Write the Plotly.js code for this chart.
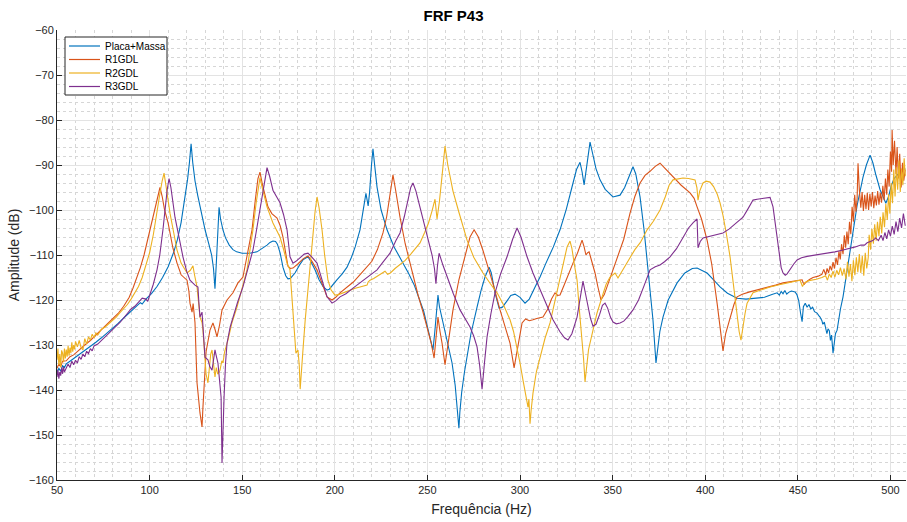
<!DOCTYPE html>
<html>
<head>
<meta charset="utf-8">
<script src="https://cdn.plot.ly/plotly-3.0.1.min.js"></script>
<style>html,body{margin:0;padding:0;background:#fff;}#chart{width:907px;height:522px;}</style>
</head>
<body>
<div id="chart"></div>
<script>
// Series names
const seriesNames = ["Placa+Massa", "R1GDL", "R2GDL", "R3GDL"];

// [frequency Hz, amplitude dB]
const placaMassa = [[50,-136.0],[51,-135.2],[52,-135.8],[53,-134.6],[54,-135.0],[55,-134.2],[57,-133.6],[59,-133.0],[61,-132.6],[63,-131.8],[65,-131.2],[68,-130.4],[71,-129.4],[74,-128.4],[77,-127.4],[80,-126.4],[83,-125.2],[86,-124.0],[89,-122.8],[92,-121.6],[95,-120.6],[96,-120.9],[98,-119.8],[101,-118.6],[104,-117.0],[107,-115.0],[110,-112.6],[113,-109.4],[115,-106.6],[117,-102.8],[119,-97.6],[120.5,-93.2],[121.5,-89.5],[122.4,-85.3],[123.3,-89.5],[124.5,-93.5],[126,-96.8],[128,-100.8],[130,-104.5],[132,-107.6],[133.5,-110.0],[134.5,-113.0],[135.3,-117.5],[136,-112],[136.8,-104],[137.5,-99.4],[138.3,-102.0],[139.6,-104.4],[141,-106.2],[143,-107.8],[145,-108.8],[147,-109.3],[150,-109.6],[154,-109.6],[158,-109.3],[161,-108.5],[163.4,-107.8],[165,-107.2],[166.6,-106.9],[168,-107.0],[169,-107.6],[170.5,-109.6],[172,-112.7],[173.5,-114.6],[174.7,-115.3],[176,-115.2],[178.5,-114.0],[181,-112.2],[183,-111.0],[185.5,-110.4],[187,-111.4],[189.3,-113.3],[191.5,-115.5],[193.6,-117.0],[195.8,-117.8],[197,-117.6],[198.5,-116.8],[201,-115.6],[204,-114.2],[206.6,-112.7],[209,-110.5],[211,-108.2],[213.6,-104.4],[215.5,-99.5],[216.8,-96.3],[218,-99.1],[218.8,-96],[219.8,-90],[220.6,-86.4],[221.5,-90.0],[222.8,-94.9],[225,-100.0],[228.2,-104.4],[232,-108.2],[236.8,-111.8],[240,-114.2],[243,-116.8],[246,-120],[248,-122.5],[250,-126.0],[252,-129.5],[253,-131.1],[254,-127],[255,-121],[255.7,-118.9],[256.5,-121.5],[258.4,-125.1],[261,-129.5],[263.3,-134.0],[265,-139.0],[266,-143.5],[266.5,-146.7],[267,-148.5],[267.5,-145],[268.5,-140.5],[270,-136.0],[271.4,-132.7],[273.5,-127.5],[276.8,-121.6],[279,-117.8],[281.1,-114.9],[283.3,-112.7],[284.5,-114.0],[285.5,-116.3],[286.5,-118.4],[288.7,-121.8],[290.5,-121.6],[293,-120.2],[295,-119.0],[297.3,-118.7],[300,-119.4],[302.7,-120.7],[305,-119.8],[308,-117.2],[310.8,-114.9],[314,-111.8],[318,-108.2],[321.6,-104.4],[325,-99.8],[328,-95.0],[330.5,-91.0],[332.4,-89.4],[333.5,-91.5],[334.6,-94.4],[335.8,-90.8],[337.8,-84.9],[339.5,-88.0],[341,-90.8],[343.2,-93.3],[346,-95.4],[350.2,-97.1],[354,-96.7],[356.5,-95.0],[359,-92.3],[361,-90.4],[362.5,-92.0],[364.8,-97.1],[367,-104.5],[368.6,-111.8],[370.2,-117.5],[371.8,-124.5],[373.4,-134.0],[374.5,-130],[375.5,-127],[377.2,-123.8],[380,-120.0],[384.8,-116.2],[389,-114.0],[393,-113.0],[395.6,-112.9],[398,-113.4],[401,-114.0],[404,-115.3],[408,-117.1],[412,-118.5],[417.2,-119.6],[422,-119.8],[428,-119.6],[432,-119.4],[436,-118.8],[438.8,-118.4],[440,-118.9],[441,-118.1],[442,-118.6],[443,-117.9],[444,-118.7],[445,-118.3],[446.5,-118.0],[448.5,-118.2],[449.5,-118.8],[450.5,-120.2],[451.5,-123.0],[452.3,-124.8],[453,-121.5],[454,-120.7],[455,-121.6],[456,-121.0],[457,-122.0],[458,-121.6],[459,-122.6],[460.4,-122.9],[461.2,-123.4],[462,-123.8],[463,-124.6],[463.5,-125.4],[464.3,-124.9],[465,-126.0],[465.7,-127.5],[466.3,-126.4],[467,-126.8],[467.6,-129.0],[468.2,-127.8],[469,-131.8],[469.7,-129.0],[470.3,-127.5],[471.2,-126.7],[472,-124.5],[473,-122.0],[474.4,-119.3],[476,-115.0],[478,-109.5],[479.8,-104.4],[482,-99.0],[485.2,-92.7],[487,-90.0],[489,-87.8],[490.5,-89.5],[492,-92.0],[494.4,-95.5],[496,-97.0],[497.5,-98.5],[499,-97.0],[500.5,-94.5],[502,-93.0],[504,-92.0],[506,-91.2],[508,-90.8]];

const r1gdl = [[50,-135.2],[51,-134.2],[52,-134.8],[53,-133.6],[55,-133.5],[57,-132.6],[59,-132.2],[61,-131.4],[63,-130.8],[65,-130.0],[68,-129.0],[71,-127.8],[74,-126.8],[77,-125.6],[80,-124.4],[83,-123.0],[86,-121.4],[89,-119.4],[91,-117.4],[93,-115.3],[95,-112.8],[97,-110.0],[99,-106.5],[101,-103.0],[102.5,-100.0],[104,-97.2],[105.6,-95.0],[106.8,-97.0],[108,-99.8],[110,-102.9],[112.6,-108.5],[114.8,-111.8],[117,-114.4],[120.2,-115.6],[121.2,-118.0],[121.8,-120.7],[122.9,-122.7],[123.5,-120.8],[124.5,-125.0],[125.6,-138.4],[126.5,-143.0],[127.2,-145.1],[127.7,-146.5],[128.3,-148.2],[128.8,-143.8],[129.5,-138.0],[130.5,-131.5],[132.6,-126.7],[134.2,-125.1],[135.3,-126.5],[136.4,-128.2],[137.8,-125.5],[139.1,-122.2],[141.8,-120.0],[145,-118.4],[147.7,-116.2],[150.4,-114.9],[152,-111.5],[153.5,-108.0],[155.3,-104.4],[157,-98.0],[158.5,-93.0],[159.6,-91.6],[161,-94.5],[163.9,-99.3],[166,-100.8],[168.8,-101.8],[170.5,-103.5],[172,-106.0],[173.5,-109.8],[174.7,-112.5],[176,-113.0],[177.4,-112.9],[180,-112.0],[183,-110.8],[185.5,-110.2],[187.5,-111.3],[190.4,-113.3],[193,-116.2],[195.8,-119.3],[198.5,-120.0],[200.5,-119.4],[202.8,-118.4],[206,-117.4],[210,-116.0],[214,-114.2],[217.4,-112.7],[220,-111.4],[223,-108.8],[226,-105.1],[228,-101.5],[229.8,-96.5],[231.4,-92.2],[232.8,-95.5],[235.2,-101.6],[238,-107.5],[240,-110.8],[242.2,-114.9],[245,-119.0],[247.5,-122.5],[249.8,-126.0],[252,-129.5],[253.6,-132.9],[254.5,-128.5],[255.7,-123.8],[256.8,-127.0],[257.9,-129.6],[259.5,-134.4],[261,-130.0],[263.8,-122.2],[267,-115.5],[270.3,-110.4],[273,-106.0],[275.2,-104.4],[277.5,-106.0],[280,-109.0],[282.2,-111.8],[285.5,-116.5],[289.2,-122.2],[292,-126.0],[294.6,-129.6],[296.8,-135.1],[298.5,-131.0],[301.1,-125.1],[303,-124.2],[305,-124.6],[307,-124.4],[309,-124.1],[312.4,-123.8],[315,-122.0],[317,-119.8],[318.9,-118.4],[320.3,-119.0],[321.6,-118.9],[324,-116.5],[326.5,-113.8],[328.6,-111.8],[331,-109.6],[332.4,-108.2],[333.5,-106.7],[334.6,-108.2],[335.6,-110.0],[336.5,-109.5],[337.3,-109.3],[338.8,-111.5],[340.5,-114.0],[342,-117.0],[343.7,-120.0],[345.5,-118.8],[347.5,-116.5],[350.2,-113.3],[353,-110.2],[356,-106.5],[359.4,-100.7],[362,-97.0],[364.8,-94.0],[367.5,-92.3],[370.2,-91.4],[373,-90.3],[375.6,-89.6],[378,-90.6],[382.6,-92.7],[387,-94.5],[391.8,-96.2],[394,-97.4],[395.6,-99.3],[398,-102.0],[401,-106.7],[403.5,-112.0],[406.4,-120.7],[408.3,-126.5],[409.6,-131.3],[411,-127.5],[413.4,-123.8],[415.5,-121.0],[417.2,-119.3],[420,-118.7],[424,-118.2],[428,-117.8],[433,-117.2],[438,-116.7],[442,-116.2],[446,-115.9],[450,-115.7],[452.3,-115.5],[453.3,-116.6],[454.5,-116.0],[456.5,-115.4],[458.2,-115.0],[461,-114.7],[463,-114.3],[464,-113.2],[465,-114.4],[465.8,-113.0],[466.6,-114.0],[467.4,-112.4],[468.2,-113.4],[469,-111.6],[469.8,-113.0],[470.6,-110.6],[471.4,-112.2],[472.2,-109.2],[472.9,-111.0],[473.6,-107.6],[474.4,-109.8],[475.1,-105.6],[475.8,-108.4],[476.5,-104.8],[477.2,-107.6],[477.9,-102.6],[478.6,-105.4],[479.3,-99.3],[480,-102.6],[480.7,-96.6],[481.4,-100.4],[482,-97.5],[482.5,-89.6],[483.2,-95.5],[484,-99.5],[484.7,-96.0],[485.4,-100.2],[486.1,-96.6],[486.8,-99.8],[487.5,-96.2],[488.2,-100.0],[488.9,-96.4],[489.6,-99.2],[490.3,-96.0],[491,-99.6],[491.7,-96.8],[492.4,-99.0],[493.1,-95.8],[493.8,-98.8],[494.5,-96.2],[495.2,-98.4],[495.9,-94.6],[496.6,-97.8],[497.3,-93.0],[498,-96.6],[498.6,-91.0],[499.3,-94.8],[500,-87.0],[500.6,-91.5],[500.9,-82.2],[501.5,-90.0],[502.2,-84.6],[503,-92.0],[503.6,-86.0],[504.3,-93.0],[505,-87.5],[505.8,-95.0],[506.5,-89.5],[507.2,-93.5],[508,-91.0]];

const r2gdl = [[50,-133.3],[50.5,-130.8],[51,-134.5],[51.5,-132.0],[52,-135.0],[52.5,-131.2],[53,-131.8],[53.5,-133.8],[54,-130.8],[54.5,-133.0],[55,-131.0],[55.5,-132.6],[56,-130.2],[56.5,-132.4],[57,-130.6],[57.5,-131.8],[58,-129.4],[58.5,-131.5],[59,-130.0],[59.5,-131.0],[60,-129.2],[61,-130.4],[62,-129.0],[63,-130.6],[64,-131.1],[65,-128.6],[66,-129.8],[67,-128.2],[68,-128.9],[69,-127.6],[70,-128.4],[71,-127.3],[72,-127.8],[74,-126.5],[76,-126.0],[78,-125.3],[80,-124.5],[82,-123.8],[84,-122.8],[86,-122.0],[88,-121.0],[90,-119.8],[92,-118.5],[94,-117.0],[96,-115.0],[98,-112.5],[100,-109.5],[102,-105.5],[104,-100.0],[105.5,-96.5],[106.8,-93.5],[107.8,-91.8],[108.8,-94.5],[110,-98.5],[111,-100.7],[113,-105.0],[114.8,-108.9],[117,-111.8],[120.2,-114.0],[122,-113.4],[123.4,-112.4],[124.3,-114.5],[125.6,-117.1],[127.2,-123.8],[128.3,-125.0],[128.8,-126.7],[129.5,-131.0],[129.9,-134.0],[130.5,-136.5],[131.5,-138.4],[132.2,-135.0],[133,-132.0],[133.7,-131.1],[134.5,-134.5],[135.3,-137.1],[136,-135.0],[136.8,-136.5],[138,-135.6],[139,-133.5],[139.6,-134.0],[140.5,-131.5],[142.3,-128.9],[144.5,-125.0],[147.2,-121.6],[150,-117.5],[152.6,-113.3],[154.5,-108.0],[155.8,-104.4],[157.5,-98.5],[159,-94.0],[159.6,-92.8],[160.5,-94.5],[163.4,-99.3],[166.6,-102.9],[170.4,-106.0],[172.5,-109.0],[174.2,-111.8],[175.8,-113.3],[176.6,-118.0],[177.4,-123.8],[178.3,-128.5],[179,-131.8],[180.1,-131.1],[180.8,-134.5],[181.3,-139.8],[181.8,-137.5],[182.4,-133.0],[182.8,-131.1],[184,-124.5],[185.2,-118.5],[186.6,-113.3],[188,-106.5],[189.3,-100.5],[190.4,-97.1],[191.5,-99.5],[193.1,-104.4],[194.5,-110.0],[196.3,-115.6],[198,-117.8],[200.1,-118.9],[202,-118.8],[204.4,-118.4],[208,-117.8],[211,-117.4],[213.6,-117.1],[216,-116.8],[217.4,-116.7],[218,-116.0],[219,-115.6],[221,-115.2],[222.5,-114.8],[224.4,-114.4],[225.8,-113.9],[227.1,-113.6],[228.5,-114.3],[230,-114.0],[232.5,-113.0],[235.2,-112.2],[238,-111.2],[241,-109.8],[244,-108.3],[246,-107.3],[248.5,-105.0],[250.5,-103.0],[252.5,-100.2],[254.1,-97.6],[255.2,-102.0],[256.5,-98.0],[258,-92.0],[259.5,-85.8],[261,-90.0],[263.8,-95.8],[267,-100.5],[271.4,-106.7],[275,-110.5],[280,-114.0],[284,-116.4],[287.6,-118.4],[291,-121.0],[294.6,-124.4],[296.5,-127.0],[298.4,-130.4],[300,-134.0],[301.6,-137.8],[303,-140.5],[304.3,-143.8],[304.8,-142.0],[305.4,-147.5],[306,-144.5],[307,-140.7],[308.8,-136.0],[310.8,-132.7],[313.5,-128.5],[316.2,-125.1],[319,-120.0],[321.6,-115.6],[323.5,-111.5],[325.4,-108.2],[327,-106.9],[328,-108.5],[329.5,-112.5],[330.8,-115.6],[332,-122.0],[333.5,-128.2],[334.3,-133.0],[335.1,-138.2],[336,-134.5],[337,-131.0],[339.4,-126.7],[341.5,-123.0],[344.3,-119.3],[346.5,-116.5],[348.6,-114.9],[351.3,-114.0],[352.9,-115.1],[354.5,-114.0],[357,-112.2],[359.4,-110.4],[362,-108.8],[365,-107.2],[368.6,-104.4],[372,-102.5],[375.6,-100.0],[378.5,-97.0],[380.5,-94.5],[382.6,-93.3],[385,-93.1],[388,-92.9],[391,-93.0],[394.5,-93.3],[395.5,-95.0],[396.1,-97.8],[397,-95.8],[398.8,-94.0],[400.5,-93.6],[402.6,-93.8],[404.5,-94.8],[406.5,-96.5],[408,-98.4],[409.5,-101.0],[411.5,-105.5],[413.4,-110.4],[415.5,-117.5],[417.2,-123.8],[418.3,-127.0],[419.3,-128.9],[420.3,-126.0],[421.5,-123.0],[422.6,-120.7],[424.2,-119.4],[425.8,-118.4],[430,-117.8],[435,-117.1],[440,-116.6],[445,-116.2],[451.2,-115.6],[452.5,-117.0],[453.5,-116.2],[456,-115.7],[460,-115.4],[463,-115.0],[465,-114.6],[466,-115.6],[467,-114.2],[468,-115.0],[469,-113.6],[470,-114.9],[471,-113.4],[472,-114.4],[473,-112.8],[474,-114.6],[475,-113.0],[476,-115.4],[476.8,-111.5],[477.6,-114.8],[478.4,-112.0],[479.2,-115.8],[480,-111.2],[480.8,-114.5],[481.6,-110.5],[482.4,-113.8],[483.2,-109.8],[484,-114.0],[484.8,-110.2],[485.6,-114.6],[486.4,-109.5],[487.2,-113.0],[488,-110.6],[488.5,-105.5],[489.3,-108.8],[490,-104.2],[490.8,-107.5],[491.5,-103.2],[492.3,-106.8],[493,-102.6],[493.8,-105.8],[494.5,-101.5],[495.3,-105.2],[496,-100.5],[496.8,-103.8],[497.5,-98.6],[498.3,-102.2],[499,-96.5],[499.7,-100.8],[500.4,-94.0],[501.1,-98.5],[501.8,-91.0],[502.5,-97.0],[503.2,-90.5],[503.9,-95.5],[504.6,-89.0],[505.3,-96.0],[506,-90.8],[506.7,-94.5],[507.4,-88.5],[508,-92.5]];

const r3gdl = [[50,-137.1],[50.5,-135.5],[51,-137.5],[51.5,-136.0],[52,-136.8],[52.5,-135.0],[53,-136.4],[53.5,-134.8],[54,-136.0],[55,-135.2],[56,-134.2],[57,-135.0],[58,-133.6],[59,-134.4],[60,-133.4],[61,-134.0],[62,-132.6],[63,-133.2],[64,-132.0],[65,-132.6],[66,-131.4],[67,-131.9],[68,-130.8],[69,-131.3],[70,-130.2],[72,-129.8],[74,-129.0],[76,-128.2],[78,-127.6],[80,-126.8],[82,-126.0],[84,-125.0],[86,-124.0],[88,-123.0],[90,-122.0],[92,-121.4],[94,-120.4],[96,-119.6],[98,-119.8],[99,-120.3],[100,-119.0],[102,-116.5],[104,-113.3],[105.5,-110.0],[107.2,-104.4],[108.5,-99.0],[109.5,-95.5],[110.5,-93.0],[111.5,-95.0],[113.7,-101.6],[116,-106.8],[118,-110.4],[120,-113.6],[121.8,-115.6],[124.5,-116.7],[126.1,-117.1],[126.6,-120.5],[127.2,-123.8],[128.3,-122.7],[129,-127.5],[129.9,-132.7],[131.5,-133.3],[132.5,-134.8],[133.7,-135.6],[134.5,-133.0],[135.3,-131.1],[136.2,-132.8],[136.9,-134.0],[137.8,-138.0],[138.6,-141.6],[139.1,-156.2],[139.6,-147.0],[140.2,-141.6],[141,-134.0],[141.8,-129.6],[143.5,-126.0],[145,-123.8],[147.5,-120.5],[150.4,-117.1],[153,-113.2],[155.8,-108.9],[157.5,-105.0],[159.6,-100.2],[161.5,-95.5],[163.4,-90.6],[164.8,-92.5],[166.6,-95.6],[168.5,-97.0],[170.4,-98.4],[172.3,-101.0],[174.2,-104.4],[175.8,-110.4],[177.4,-111.8],[179,-111.4],[181.2,-110.7],[183.5,-109.8],[185.5,-109.6],[187.5,-110.4],[190.4,-111.8],[193,-115.5],[195.8,-119.3],[198.5,-120.7],[200.5,-120.2],[202.8,-119.3],[206,-118.6],[210,-117.3],[213.6,-116.2],[217.9,-114.9],[222.8,-113.3],[226,-111.6],[229.8,-109.6],[233,-106.8],[235.2,-105.1],[237.5,-101.5],[239.5,-97.6],[241,-95.0],[242.2,-94.0],[243.8,-95.8],[245.5,-98.6],[247.6,-102.2],[250,-106.2],[252.5,-110.0],[253.8,-113.0],[254.6,-116.4],[255.4,-112.5],[256.3,-109.6],[258.5,-112.4],[260.6,-114.9],[264,-118.6],[267.6,-122.2],[270.3,-124.2],[273,-126.0],[275,-128.0],[276.8,-130.4],[278.2,-134.5],[279.5,-139.8],[280.8,-134.0],[282.2,-128.2],[284.3,-123.0],[286.5,-118.4],[289.5,-114.2],[293,-110.4],[296,-106.5],[298.4,-104.0],[300.5,-106.0],[303.8,-110.4],[307,-114.0],[310.8,-117.8],[314,-121.0],[317.8,-124.4],[321.5,-127.0],[324,-128.4],[325.9,-128.9],[328,-127.5],[330.8,-123.8],[332.5,-119.5],[334,-115.8],[335.3,-118.5],[336.7,-121.6],[338,-124.0],[339.4,-125.8],[341,-125.4],[343,-123.2],[344.5,-121.2],[345.9,-120.7],[347.3,-121.8],[348.8,-123.8],[350.2,-124.9],[352,-125.3],[354,-125.1],[356,-124.7],[358,-123.8],[361,-122.2],[364,-120.0],[367,-116.8],[370.2,-113.3],[373,-112.6],[375.6,-112.2],[378,-111.5],[381,-110.4],[384.5,-108.6],[388,-106.0],[391,-104.0],[393.5,-102.8],[395.6,-102.0],[396.1,-108.4],[397.3,-107.0],[398.8,-106.2],[402,-105.9],[405.5,-105.6],[409.6,-105.1],[413,-104.2],[417,-102.8],[420.4,-101.6],[423,-99.8],[425.8,-97.8],[428,-97.6],[431,-97.5],[433.5,-97.4],[435,-97.2],[436.6,-99.3],[438,-103.5],[439.5,-108.5],[441,-112.8],[442,-114.0],[443.2,-114.5],[444.2,-114.2],[446,-113.0],[447.8,-112.0],[449.6,-111.1],[452,-110.6],[455,-110.3],[460.4,-110.0],[465,-109.7],[470,-109.3],[474.4,-108.9],[478,-108.6],[481,-108.2],[484,-107.8],[486,-107.8],[487.4,-107.3],[489,-107.0],[490.5,-106.8],[492,-106.2],[493.5,-106.8],[495,-105.6],[496,-106.8],[497,-105.0],[498,-106.4],[499,-104.4],[500,-105.8],[501,-103.6],[502,-105.4],[503,-102.6],[504,-104.8],[505,-101.8],[506,-104.0],[507,-100.8],[508,-103.5]];

const seriesData = [placaMassa, r1gdl, r2gdl, r3gdl];
const seriesColors = ["#0072BD", "#D95319", "#EDB120", "#7E2F8E"];

const xTickVals = [50, 100, 150, 200, 250, 300, 350, 400, 450, 500];
const yTickVals = [-160, -150, -140, -130, -120, -110, -100, -90, -80, -70, -60];

const traces = seriesData.map((pts, i) => ({
  type: "scatter",
  mode: "lines",
  name: seriesNames[i],
  x: pts.map(p => p[0]),
  y: pts.map(p => p[1]),
  line: { color: seriesColors[i], width: 1.1 },
  showlegend: false
}));

const fontFam = "'Liberation Sans', Arial, Helvetica, sans-serif";
const axisCommon = {
  showline: true,
  linecolor: "#262626",
  linewidth: 1,
  mirror: false,
  ticks: "inside",
  ticklen: 5,
  tickcolor: "#262626",
  tickfont: { family: fontFam, size: 11, color: "#262626" },
  showgrid: true,
  gridcolor: "#e3e3e3",
  gridwidth: 1,
  zeroline: false
};

// Compact legend box (MATLAB-style), built from the series names/colours
const plotW = 849, plotH = 450;
const px = v => v / plotW;            // pixel offset -> paper x
const py = v => 1 - v / plotH;        // pixel offset from top -> paper y
const legendShapes = [{
  type: "rect", xref: "paper", yref: "paper",
  x0: px(8), x1: px(110), y0: py(7), y1: py(65),
  line: { color: "#262626", width: 1 }, fillcolor: "#ffffff", layer: "above"
}];
const legendAnnots = [];
seriesNames.forEach((name, i) => {
  const yy = 16 + i * 13.5;
  legendShapes.push({
    type: "line", xref: "paper", yref: "paper",
    x0: px(12), x1: px(43), y0: py(yy), y1: py(yy),
    line: { color: seriesColors[i], width: 1.2 }, layer: "above"
  });
  legendAnnots.push({
    xref: "paper", yref: "paper", x: px(46), y: py(yy),
    xanchor: "left", yanchor: "middle", showarrow: false,
    text: name, font: { family: fontFam, size: 10, color: "#000000" }
  });
});

const layout = {
  width: 907,
  height: 522,
  margin: { l: 57, r: 1, t: 30, b: 42 },
  paper_bgcolor: "#ffffff",
  plot_bgcolor: "#ffffff",
  font: { family: fontFam, color: "#262626" },
  title: {
    text: "<b>FRF P43</b>",
    font: { family: fontFam, size: 15, color: "#000000" },
    x: 0.5, xref: "container", xanchor: "center",
    y: 0.97, yref: "container", yanchor: "middle"
  },
  xaxis: Object.assign({}, axisCommon, {
    range: [50, 508.4],
    tickvals: xTickVals,
    title: { text: "Frequência (Hz)", font: { family: fontFam, size: 14, color: "#262626" }, standoff: 8 },
    minor: { dtick: 10, tick0: 50, showgrid: true, gridcolor: "#d6d6d6", griddash: "dot", gridwidth: 1, ticks: "" }
  }),
  yaxis: Object.assign({}, axisCommon, {
    range: [-160, -60],
    tickvals: yTickVals,
    title: { text: "Amplitude (dB)", font: { family: fontFam, size: 14, color: "#262626" }, standoff: 6 },
    minor: { dtick: 2, tick0: -60, showgrid: true, gridcolor: "#d6d6d6", griddash: "dot", gridwidth: 1, ticks: "" }
  }),
  showlegend: false,
  shapes: legendShapes,
  annotations: legendAnnots
};

Plotly.newPlot("chart", traces, layout, { displayModeBar: false, staticPlot: true });
</script>
</body>
</html>
